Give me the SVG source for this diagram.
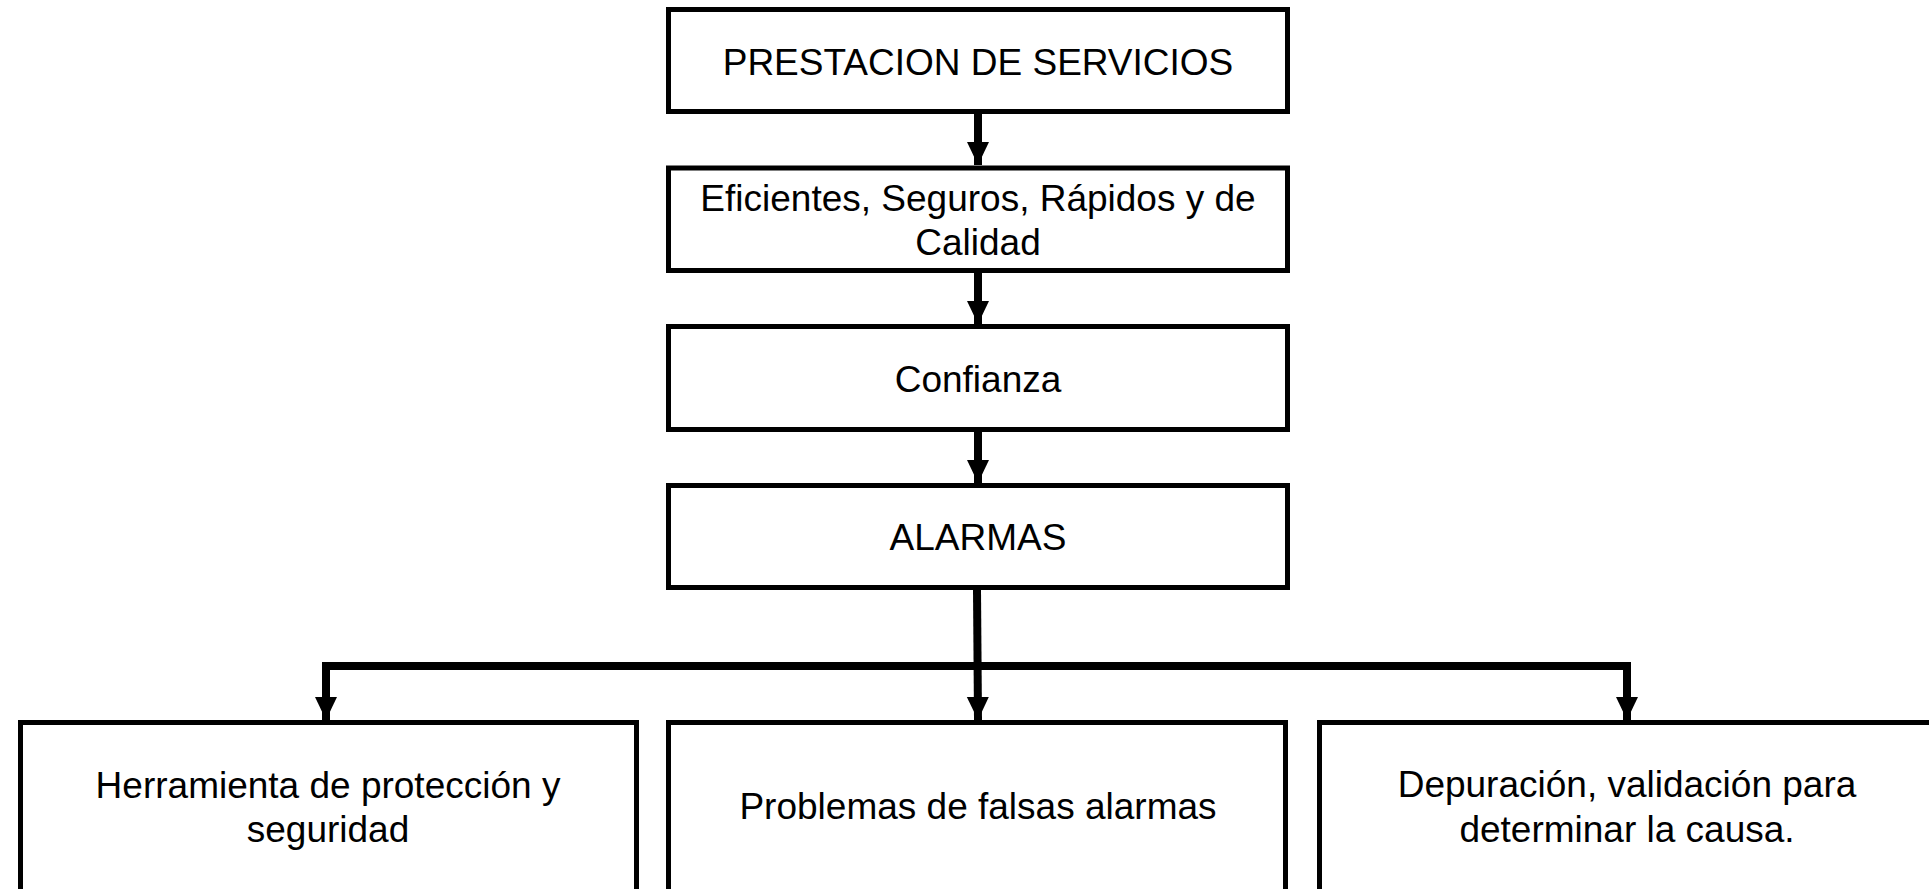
<svg xmlns="http://www.w3.org/2000/svg" width="1929" height="889" viewBox="0 0 1929 889">
<style>
.box{fill:#fff;stroke:#000;stroke-width:5}
.lbl{font-family:"Liberation Sans",Arial,sans-serif;font-size:37px;fill:#000;text-anchor:middle}
.con{fill:none;stroke:#000;stroke-width:8}
</style>
<defs>
<marker id="ah" markerUnits="userSpaceOnUse" markerWidth="24" markerHeight="24" viewBox="0 0 24 24" refX="23" refY="12" orient="auto">
<path d="M0,1 L23,12 L0,23 Z" fill="#000"/>
</marker>
</defs>
<rect width="1929" height="889" fill="#fff"/>
<g id="connectors">
<line class="con" x1="978" y1="114" x2="978" y2="165" marker-end="url(#ah)"/>
<line class="con" x1="978" y1="273" x2="978" y2="324" marker-end="url(#ah)"/>
<line class="con" x1="978" y1="432" x2="978" y2="483" marker-end="url(#ah)"/>
<line class="con" x1="977" y1="590" x2="978" y2="720" marker-end="url(#ah)"/>
<polyline class="con" points="326,670 326,666 1627,666 1627,670"/>
<line class="con" x1="326" y1="662" x2="326" y2="720" marker-end="url(#ah)"/>
<line class="con" x1="1627" y1="662" x2="1627" y2="720" marker-end="url(#ah)"/>
</g>
<g id="n1"><rect class="box" x="668.5" y="9.5" width="619" height="102"/><text class="lbl" x="978" y="75">PRESTACION DE SERVICIOS</text></g>
<g id="n2"><rect class="box" x="668.5" y="168" width="619" height="102.5"/><text class="lbl" x="978" y="211">Eficientes, Seguros, Rápidos y de</text><text class="lbl" x="978" y="255">Calidad</text></g>
<g id="n3"><rect class="box" x="668.5" y="326.5" width="619" height="103"/><text class="lbl" x="978" y="392">Confianza</text></g>
<g id="n4"><rect class="box" x="668.5" y="485.5" width="619" height="102"/><text class="lbl" x="978" y="550">ALARMAS</text></g>
<g id="n5"><rect class="box" x="20.5" y="722.5" width="616" height="180"/><text class="lbl" x="328" y="798">Herramienta de protección y</text><text class="lbl" x="328" y="842">seguridad</text></g>
<g id="n6"><rect class="box" x="668.5" y="722.5" width="617" height="180"/><text class="lbl" x="978" y="819">Problemas de falsas alarmas</text></g>
<g id="n7"><rect class="box" x="1319.5" y="722.5" width="616" height="180"/><text class="lbl" x="1627" y="797">Depuración, validación para</text><text class="lbl" x="1627" y="842">determinar la causa.</text></g>
</svg>
